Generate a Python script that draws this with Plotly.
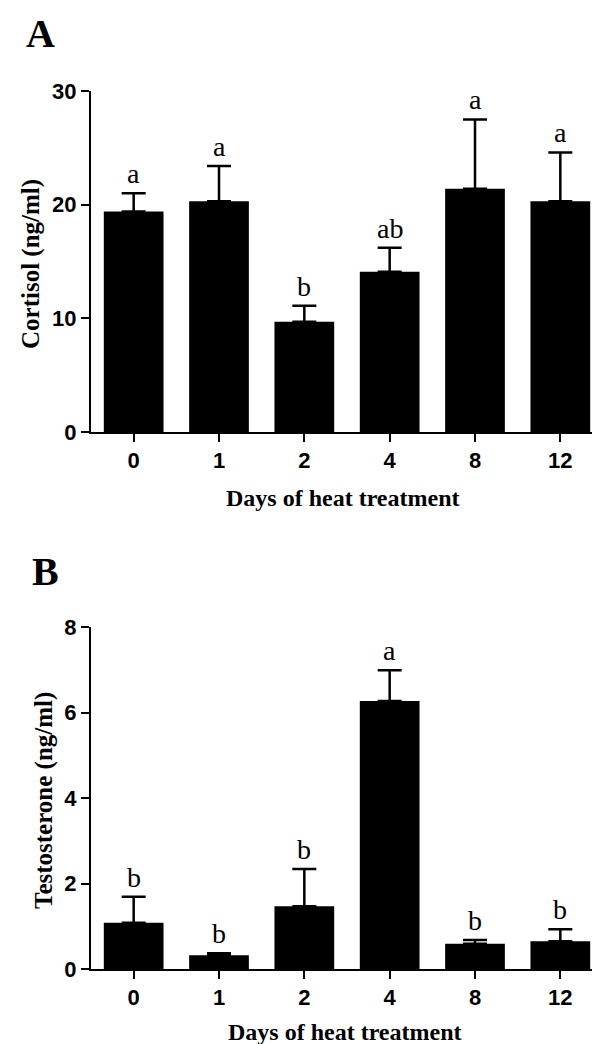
import plotly.graph_objects as go
from plotly.subplots import make_subplots

days = ["0", "1", "2", "4", "8", "12"]

cortisol_mean = [19.4, 20.3, 9.7, 14.1, 21.4, 20.3]
cortisol_err_top = [21.0, 23.4, 11.1, 16.2, 27.5, 24.6]
cortisol_letters = ["a", "a", "b", "ab", "a", "a"]

testo_mean = [1.08, 0.32, 1.47, 6.27, 0.59, 0.65]
testo_err_top = [1.69, 0.37, 2.34, 6.99, 0.68, 0.93]
testo_letters = ["b", "b", "b", "a", "b", "b"]

W, H = 600, 1044
ML, MR, MT, MB = 83, 5, 83, 83
PW, PH = W - ML - MR, H - MT - MB

def px_x(p):
    return (p - ML) / PW

def px_y(p):
    return (H - MB - p) / PH

fig = make_subplots(rows=2, cols=1)

serif = "Liberation Serif"
sans = "Liberation Sans"

def add_panel(row, means, tops, letters):
    fig.add_trace(
        go.Bar(
            x=days, y=means, width=0.7,
            marker=dict(color="black", line=dict(color="black", width=0)),
            error_y=dict(type="data", symmetric=False,
                         array=[t - m for t, m in zip(tops, means)],
                         arrayminus=[0] * len(means),
                         color="black", thickness=2.5, width=12),
            showlegend=False,
        ),
        row=row, col=1,
    )
    # category index positions, so "4"/"8"/"12" are not read as numbers
    for i, (t, l) in enumerate(zip(tops, letters)):
        fig.add_annotation(x=i, y=t, text=l, showarrow=False, yanchor="bottom", yshift=2,
                           font=dict(family=serif, size=28, color="black"),
                           row=row, col=1)

add_panel(1, cortisol_mean, cortisol_err_top, cortisol_letters)
add_panel(2, testo_mean, testo_err_top, testo_letters)

axis_style = dict(showline=True, linecolor="black", linewidth=2, ticks="outside",
                  ticklen=8, tickwidth=2, tickcolor="black", showgrid=False,
                  zeroline=False, automargin=False,
                  tickfont=dict(family=sans, size=22, color="black", weight="bold"))

fig.update_xaxes(axis_style)
fig.update_yaxes(axis_style)
fig.update_xaxes(type="category", range=[-0.5, 5.5], domain=[0, 1])
fig.update_yaxes(range=[0, 30], tickvals=[0, 10, 20, 30], domain=[px_y(424), px_y(83)], row=1, col=1)
fig.update_yaxes(range=[0, 8], tickvals=[0, 2, 4, 6, 8], domain=[px_y(961), px_y(619)], row=2, col=1)

labels = [
    ("A", 32, 26, 40, 0),
    ("B", 37, 563, 40, 0),
    ("Cortisol (ng/ml)", 23, 256, 25, -90),
    ("Testosterone (ng/ml)", 36, 793, 25, -90),
    ("Days of heat treatment", 335, 490, 24, 0),
    ("Days of heat treatment", 337, 1024, 24, 0),
]
for text, x, y, size, ang in labels:
    fig.add_annotation(x=px_x(x), y=px_y(y), xref="paper", yref="paper", text=text,
                       showarrow=False, textangle=ang, xanchor="center", yanchor="middle",
                       font=dict(family=serif, size=size, color="black", weight="bold"))

fig.update_layout(
    width=W, height=H,
    margin=dict(l=ML, r=MR, t=MT, b=MB),
    plot_bgcolor="white", paper_bgcolor="white",
)

fig.write_html("out.html")
